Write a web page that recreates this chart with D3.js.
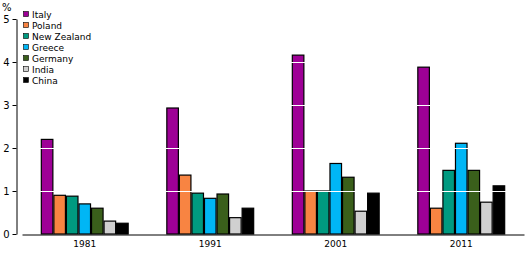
<!DOCTYPE html>
<html>
<head>
<meta charset="utf-8">
<script src="https://cdnjs.cloudflare.com/ajax/libs/d3/7.8.5/d3.min.js"></script>
<style>
    body { margin: 0; background: #fff; }
    text { font-family: "DejaVu Sans", Verdana, sans-serif; fill: #000; }
</style>
</head>
<body>
<div id="chart"></div>
<script>
    var years = ["1981", "1991", "2001", "2011"];
    var countries = ["Italy", "Poland", "New Zealand", "Greece", "Germany", "India", "China"];
    var colours = ["#9e0096", "#f88442", "#009a80", "#00b6f5", "#3a5f1b", "#d0d0d0", "#000000"];
    // values per country, one per census year (%)
    var italy      = [2.2, 2.93, 4.16, 3.88];
    var poland     = [0.9, 1.37, 1.0, 0.6];
    var newZealand = [0.88, 0.95, 1.0, 1.48];
    var greece     = [0.7, 0.83, 1.64, 2.11];
    var germany    = [0.6, 0.93, 1.32, 1.48];
    var india      = [0.3, 0.38, 0.53, 0.74];
    var china      = [0.25, 0.6, 0.95, 1.12];
    var yTicks = [0, 1, 2, 3, 4, 5];

    var series = [italy, poland, newZealand, greece, germany, india, china];

    var width = 529, height = 253;
    var svg = d3.select("#chart").append("svg")
        .attr("width", width)
        .attr("height", height);

    var x0 = d3.scaleBand()
        .domain(years)
        .range([22, 524])
        .paddingInner(0.3)
        .paddingOuter(0.15);

    var x1 = d3.scaleBand()
        .domain(countries)
        .range([0, x0.bandwidth()]);

    var y = d3.scaleLinear()
        .domain([0, 5])
        .range([234, 19]);

    // bars
    years.forEach(function(yr, i) {
        var g = svg.append("g")
            .attr("transform", "translate(" + x0(yr) + ",0)");
        g.selectAll("rect")
            .data(countries)
            .enter().append("rect")
            .attr("x", function(c) { return x1(c) + 0.5; })
            .attr("y", function(c, j) { return y(series[j][i]); })
            .attr("width", x1.bandwidth() - 1)
            .attr("height", function(c, j) { return y(0) - y(series[j][i]); })
            .attr("fill", function(c, j) { return colours[j]; })
            .attr("stroke", "#000")
            .attr("stroke-width", 1.2);
    });

    // white gridlines drawn over bars
    svg.selectAll(".grid")
        .data(yTicks.filter(function(t) { return t > 0 && t < 5; }))
        .enter().append("line")
        .attr("x1", 22).attr("x2", 524)
        .attr("y1", function(d) { return Math.round(y(d)) + 0.5; })
        .attr("y2", function(d) { return Math.round(y(d)) + 0.5; })
        .attr("stroke", "#fff")
        .attr("stroke-width", 1);

    // y axis
    var yAxis = svg.append("g")
        .attr("transform", "translate(16.5,0)")
        .call(d3.axisLeft(y).tickValues(yTicks).tickFormat(d3.format("d"))
            .tickSize(4).tickSizeOuter(0).tickPadding(3));
    yAxis.select(".domain").attr("stroke", "#000");
    yAxis.selectAll("text").style("font-size", "10px");

    // x axis
    var xAxis = svg.append("g")
        .attr("transform", "translate(0,234.5)")
        .call(d3.axisBottom(x0).tickSize(0).tickSizeOuter(0).tickPadding(6));
    xAxis.select(".domain").attr("stroke", "#000");
    xAxis.selectAll("text").style("font-size", "9px");

    svg.append("text")
        .attr("x", 2).attr("y", 11)
        .style("font-size", "10px")
        .text("%");

    // legend
    var legend = svg.selectAll(".legend")
        .data(countries)
        .enter().append("g")
        .attr("transform", function(d, i) { return "translate(23," + (11 + i * 11) + ")"; });
    legend.append("rect")
        .attr("x", 0.5).attr("y", 0.5)
        .attr("width", 5).attr("height", 5)
        .attr("fill", function(d, i) { return colours[i]; })
        .attr("stroke", "#000")
        .attr("stroke-width", 0.6);
    legend.append("text")
        .attr("x", 9).attr("y", 6.5)
        .style("font-size", "9px")
        .text(function(d) { return d; });
</script>
</body>
</html>
